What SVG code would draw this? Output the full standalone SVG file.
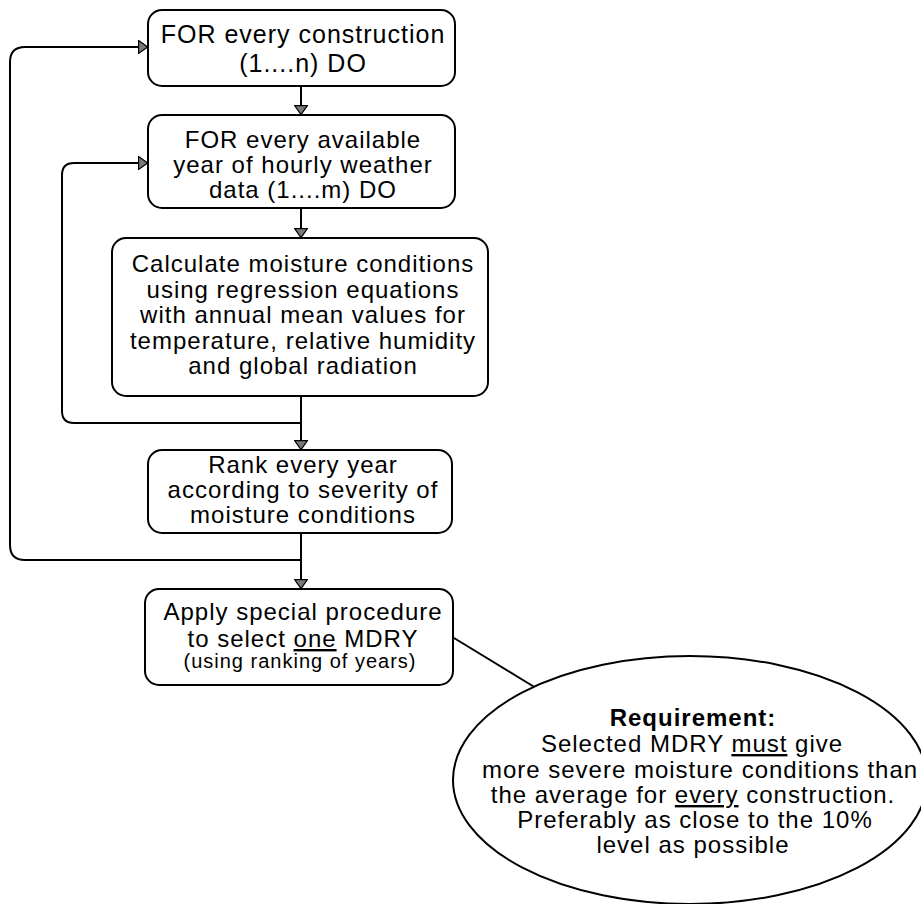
<svg xmlns="http://www.w3.org/2000/svg" width="921" height="904" viewBox="0 0 921 904">
<style>
.box{fill:#fff;stroke:#000;stroke-width:2}
.t{font-family:"Liberation Sans",Arial,Helvetica,sans-serif;font-size:24px;letter-spacing:1px;text-anchor:middle;fill:#000}
.s{font-size:20px}
.b{font-weight:bold}
.u{text-decoration:underline}
.c{fill:none;stroke:#000;stroke-width:2}
</style>
<defs>
<marker id="ah" viewBox="0 0 10 14" refX="10" refY="7" markerWidth="10" markerHeight="14" markerUnits="userSpaceOnUse" orient="auto">
<path d="M0.6,0.6 L9.6,7 L0.6,13.4 z" fill="#7a7a7a" stroke="#000" stroke-width="1.2"/>
</marker>
</defs>
<rect width="921" height="904" fill="#fff"/>
<g id="connectors">
<path class="c" d="M301,86 V115" marker-end="url(#ah)"/>
<path class="c" d="M301,208 V238" marker-end="url(#ah)"/>
<path class="c" d="M301,396 V450" marker-end="url(#ah)"/>
<path class="c" d="M301,533 V589" marker-end="url(#ah)"/>
<path class="c" d="M301,423 H74 Q62,423 62,411 V175 Q62,163 74,163 H148" marker-end="url(#ah)"/>
<path class="c" d="M301,560 H25 Q10,560 10,545 V62 Q10,47 25,47 H148" marker-end="url(#ah)"/>
<path class="c" d="M454,638 L536,688"/>
</g>
<g id="node1">
<rect class="box" x="148" y="10" width="307" height="76" rx="14"/>
<text class="t" x="303" y="43" style="font-size:25px">FOR every construction</text>
<text class="t" x="303" y="72" style="font-size:25px">(1....n) DO</text>
</g>
<g id="node2">
<rect class="box" x="148" y="115" width="307" height="93" rx="14"/>
<text class="t" x="303" y="147.5">FOR every available</text>
<text class="t" x="303" y="172.5">year of hourly weather</text>
<text class="t" x="303" y="197.5">data (1....m) DO</text>
</g>
<g id="node3">
<rect class="box" x="112" y="238" width="376" height="158" rx="14"/>
<text class="t" x="303" y="272">Calculate moisture conditions</text>
<text class="t" x="303" y="297.5">using regression equations</text>
<text class="t" x="303" y="323">with annual mean values for</text>
<text class="t" x="303" y="348.5">temperature, relative humidity</text>
<text class="t" x="303" y="374">and global radiation</text>
</g>
<g id="node4">
<rect class="box" x="148" y="450" width="304" height="83" rx="14"/>
<text class="t" x="303" y="473">Rank every year</text>
<text class="t" x="303" y="498">according to severity of</text>
<text class="t" x="303" y="523">moisture conditions</text>
</g>
<g id="node5">
<rect class="box" x="145" y="589" width="308" height="96" rx="14"/>
<text class="t" x="303" y="620">Apply special procedure</text>
<text class="t" x="303" y="647">to select <tspan class="u">one</tspan> MDRY</text>
<text class="t s" x="300" y="668">(using ranking of years)</text>
</g>
<g id="requirement">
<ellipse class="box" cx="690" cy="780" rx="237" ry="124"/>
<text class="t b" x="693" y="726">Requirement:</text>
<text class="t" x="692" y="752">Selected MDRY <tspan class="u">must</tspan> give</text>
<text class="t" x="700" y="777.5">more severe moisture conditions than</text>
<text class="t" x="693" y="803">the average for <tspan class="u">every</tspan> construction.</text>
<text class="t" x="695" y="828">Preferably as close to the 10%</text>
<text class="t" x="693" y="853">level as possible</text>
</g>
</svg>
